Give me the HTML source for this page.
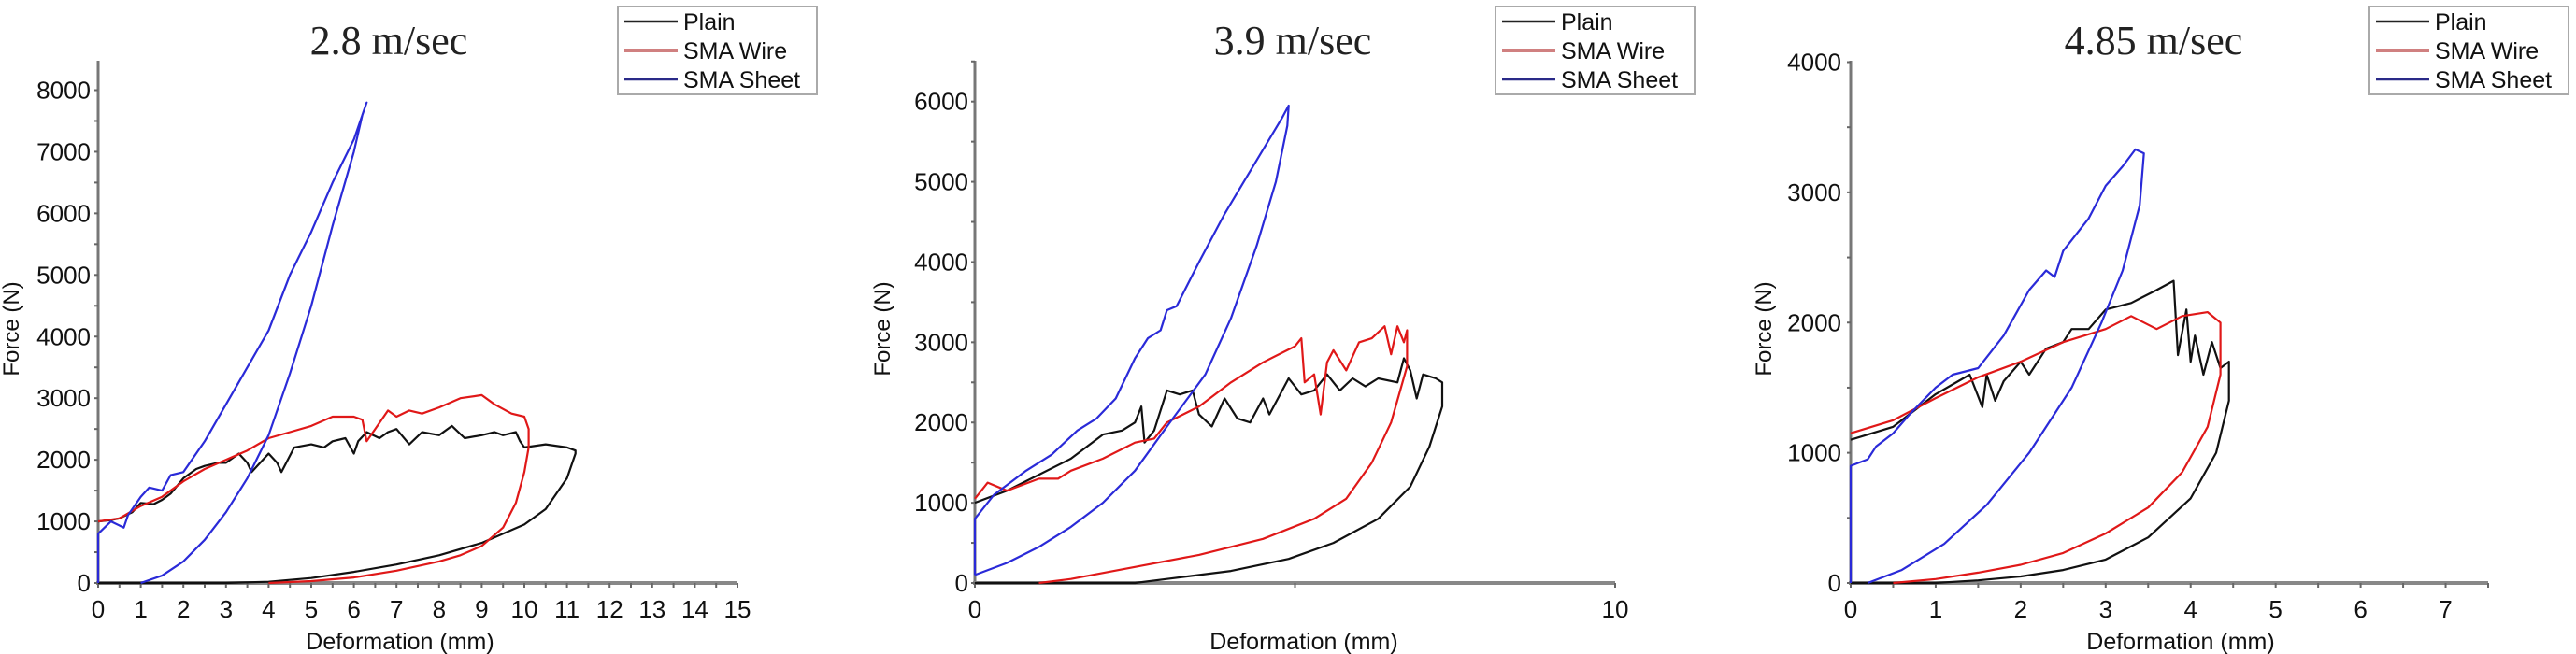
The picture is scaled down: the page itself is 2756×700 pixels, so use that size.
<!DOCTYPE html>
<html><head><meta charset="utf-8">
<style>
html,body{margin:0;padding:0;background:#fff;}
svg{display:block;font-family:"Liberation Sans",sans-serif;}
</style></head>
<body>
<svg id="chart" width="2756" height="700" viewBox="0 0 2756 700" xmlns="http://www.w3.org/2000/svg"></svg>
<script>
// ---------- Panel 1: 2.8 m/sec ----------
const p1PlainX=[0,0.3,0.5,0.8,1,1.3,1.5,1.7,2,2.3,2.5,2.8,3,3.3,3.5,3.6,4,4.2,4.3,4.6,5,5.3,5.5,5.8,6,6.1,6.3,6.6,6.8,7,7.3,7.6,8,8.3,8.6,9,9.3,9.5,9.8,9.9,10,10.5,11,11.2,11.2,11,10.5,10,9,8,7,6,5,4,3,0];
const p1PlainY=[1000,1020,1050,1150,1300,1280,1350,1450,1700,1850,1900,1950,1950,2100,1950,1800,2100,1950,1800,2200,2250,2200,2300,2350,2100,2300,2450,2350,2450,2500,2250,2450,2400,2550,2350,2400,2450,2400,2450,2300,2200,2250,2200,2150,2100,1700,1200,950,650,450,300,180,80,20,0,0];
const p1WireX=[0,0.5,1,1.5,2,2.5,3,3.5,4,4.5,5,5.5,6,6.2,6.3,6.5,6.8,7,7.3,7.6,8,8.5,9,9.3,9.7,10,10.1,10.1,10,9.8,9.5,9,8.5,8,7,6,5,4];
const p1WireY=[1000,1050,1250,1400,1650,1850,2000,2150,2350,2450,2550,2700,2700,2650,2300,2500,2800,2700,2800,2750,2850,3000,3050,2900,2750,2700,2500,2200,1800,1300,900,600,450,350,200,90,30,0];
const p1SheetX=[0,0,0.3,0.6,0.7,1,1.2,1.5,1.7,2,2.5,3,3.5,4,4.5,5,5.5,6,6.3,6.2,6,5.5,5,4.5,4,3.5,3,2.5,2,1.5,1];
const p1SheetY=[0,800,1000,900,1100,1400,1550,1500,1750,1800,2300,2900,3500,4100,5000,5700,6500,7200,7800,7600,7000,5800,4500,3400,2400,1700,1150,700,350,120,0];
const p1XTicks=[0,1,2,3,4,5,6,7,8,9,10,11,12,13,14,15];
const p1YTicks=[0,1000,2000,3000,4000,5000,6000,7000,8000];

// ---------- Panel 2: 3.9 m/sec ----------
const p2PlainX=[0,0.5,1,1.5,2,2.3,2.5,2.6,2.65,2.8,3,3.2,3.4,3.5,3.7,3.9,4.1,4.3,4.5,4.6,4.9,5.1,5.3,5.5,5.7,5.9,6.1,6.3,6.6,6.7,6.8,6.9,7,7.2,7.3,7.3,7.1,6.8,6.3,5.6,4.9,4,3,2.5,0];
const p2PlainY=[1000,1150,1350,1550,1850,1900,2000,2200,1750,1900,2400,2350,2400,2100,1950,2300,2050,2000,2300,2100,2550,2350,2400,2600,2400,2550,2450,2550,2500,2800,2650,2300,2600,2550,2500,2200,1700,1200,800,500,300,150,50,0,0];
const p2WireX=[0,0.2,0.5,1,1.3,1.5,2,2.5,2.8,3,3.5,4,4.5,5,5.1,5.15,5.3,5.4,5.5,5.6,5.8,6,6.2,6.4,6.5,6.6,6.7,6.75,6.75,6.5,6.2,5.8,5.3,4.5,3.5,2.5,1.5,1];
const p2WireY=[1050,1250,1150,1300,1300,1400,1550,1750,1800,2000,2200,2500,2750,2950,3050,2500,2600,2100,2750,2900,2650,3000,3050,3200,2850,3200,3000,3150,2700,2000,1500,1050,800,550,350,200,50,0];
const p2SheetX=[0,0,0.3,0.8,1.2,1.6,1.9,2.2,2.5,2.7,2.9,3.0,3.15,3.5,3.9,4.2,4.5,4.8,4.9,4.88,4.7,4.4,4.0,3.6,3.0,2.5,2.0,1.5,1.0,0.5,0];
const p2SheetY=[100,800,1100,1400,1600,1900,2050,2300,2800,3050,3150,3400,3450,4000,4600,5000,5400,5800,5950,5700,5000,4200,3300,2600,1950,1400,1000,700,450,250,100];
const p2XTicks=[0,10];
const p2YTicks=[0,1000,2000,3000,4000,5000,6000];

// ---------- Panel 3: 4.85 m/sec ----------
const p3PlainX=[0,0.5,1,1.4,1.55,1.6,1.7,1.8,2,2.1,2.3,2.5,2.6,2.8,3,3.3,3.6,3.8,3.85,3.95,4.0,4.05,4.15,4.25,4.35,4.45,4.45,4.3,4.0,3.5,3,2.5,2,1.5,1,0];
const p3PlainY=[1100,1200,1450,1600,1350,1600,1400,1550,1700,1600,1800,1850,1950,1950,2100,2150,2250,2320,1750,2100,1700,1900,1600,1850,1650,1700,1400,1000,650,350,180,100,50,20,0,0];
const p3WireX=[0,0.5,1,1.5,2,2.5,3,3.3,3.6,3.9,4.2,4.35,4.35,4.2,3.9,3.5,3,2.5,2,1.5,1,0.5];
const p3WireY=[1150,1250,1420,1580,1700,1850,1950,2050,1950,2050,2080,2000,1600,1200,850,580,380,230,140,80,30,0];
const p3SheetX=[0,0,0.2,0.3,0.5,0.7,1,1.2,1.5,1.8,2.1,2.3,2.4,2.5,2.8,3.0,3.2,3.35,3.45,3.4,3.2,2.95,2.6,2.1,1.6,1.1,0.6,0.2];
const p3SheetY=[0,900,950,1050,1150,1300,1500,1600,1650,1900,2250,2400,2350,2550,2800,3050,3200,3330,3300,2900,2400,2000,1500,1000,600,300,100,0];
const p3XTicks=[0,1,2,3,4,5,6,7];
const p3YTicks=[0,1000,2000,3000,4000];

const NS="http://www.w3.org/2000/svg";
const svg=document.getElementById('chart');
function mk(tag,attrs,parent){const e=document.createElementNS(NS,tag);for(const k in attrs)e.setAttribute(k,attrs[k]);(parent||svg).appendChild(e);return e;}

function panel(cfg){
  const g=mk('g',{});
  
  
  const sx=v=>cfg.x0+(v-cfg.xmin)*(cfg.x1-cfg.x0)/(cfg.xmax-cfg.xmin);
  const sy=v=>cfg.y0-(v)*(cfg.y0-cfg.yTopVal)/cfg.yTopNum;
  // title
  const t=mk('text',{x:cfg.titleX,y:58,'text-anchor':'middle','font-family':'"Liberation Serif",serif','font-size':44,fill:'#222'},g);
  t.textContent=cfg.title;
  
  
  // axes
  const ya=mk('line',{x1:sx(cfg.xmin),y1:cfg.axisTop,x2:sx(cfg.xmin),y2:cfg.y0+2,stroke:'#777','stroke-width':3},g);
  
  
  const xa=mk('line',{x1:sx(cfg.xmin)-2,y1:cfg.y0,x2:cfg.x1,y2:cfg.y0,stroke:'#888','stroke-width':4},g);
  
  
  // y ticks
  for(let v=0; sy(v)>=cfg.axisTop-1; v+=cfg.yMinor){
    mk('line',{x1:sx(cfg.xmin)-4,y1:sy(v),x2:sx(cfg.xmin),y2:sy(v),stroke:'#666','stroke-width':2},g);
  }
  cfg.yTicks.forEach(v=>{
    const tx=mk('text',{x:sx(cfg.xmin)-(cfg.yLabelGap),y:sy(v)+9,'text-anchor':'end','font-size':26,fill:'#111'},g);
    tx.textContent=v;
    
    
  });
  // x ticks
  for(let v=cfg.xmin; v<=cfg.xmax+1e-6; v+=cfg.xMinor){
    mk('line',{x1:sx(v),y1:cfg.y0,x2:sx(v),y2:cfg.y0+5,stroke:'#666','stroke-width':2},g);
  }
  cfg.xTicks.forEach(v=>{
    const tx=mk('text',{x:sx(v),y:cfg.y0+37,'text-anchor':'middle','font-size':26,fill:'#111'},g);
    tx.textContent=v;
    
    
  });
  // axis titles
  const yt=mk('text',{x:0,y:0,'text-anchor':'middle','font-size':24,fill:'#111',transform:`translate(${cfg.yTitleX},352) rotate(-90)`},g);
  yt.textContent='Force (N)';
  
  
  const xt=mk('text',{x:cfg.xTitleX,y:695,'text-anchor':'middle','font-size':25,fill:'#111'},g);
  xt.textContent='Deformation (mm)';
  
  
  // series
  const series=[[cfg.plainX,cfg.plainY,'#111','plain-curve'],[cfg.wireX,cfg.wireY,'#e01818','sma-wire-curve'],[cfg.sheetX,cfg.sheetY,'#2a2ad8','sma-sheet-curve']];
  series.forEach(s=>{
    const d=s[0].map((x,i)=>(i?'L':'M')+sx(x).toFixed(1)+','+sy(s[1][i]).toFixed(1)).join(' ');
    const p=mk('path',{d:d,fill:'none',stroke:s[2],'stroke-width':2.2,'stroke-linejoin':'round'},g);
    
    
  });
  // legend
  const lg=mk('g',{},g);
  
  
  mk('rect',{x:cfg.legX,y:7,width:213,height:94,fill:'#fff',stroke:'#aaa','stroke-width':2},lg);
  const entries=[['Plain','#222'],['SMA Wire','#d08080'],['SMA Sheet','#2a2a88']];
  entries.forEach((e,i)=>{
    const yy=23+i*31;
    const ln=mk('line',{x1:cfg.legX+7,y1:yy,x2:cfg.legX+64,y2:yy,stroke:e[1],'stroke-width':i==1?4:2.5},lg);
    
    
    const tx=mk('text',{x:cfg.legX+70,y:yy+9,'font-size':25,fill:'#111'},lg);
    tx.textContent=e[0];
    
    
  });
}

panel({name:'panel-2-8-mps',title:'2.8 m/sec',titleX:416,x0:105,x1:789,xmin:0,xmax:15,y0:624,yTopVal:96.5,yTopNum:8000,axisTop:65,
  yMinor:500,xMinor:0.5,yTicks:p1YTicks,xTicks:p1XTicks,yLabelGap:8,yTitleX:20,xTitleX:428,legX:661,
  plainX:p1PlainX,plainY:p1PlainY,wireX:p1WireX,wireY:p1WireY,sheetX:p1SheetX,sheetY:p1SheetY});
panel({name:'panel-3-9-mps',title:'3.9 m/sec',titleX:1383,x0:1043,x1:1728,xmin:0,xmax:10,y0:624,yTopVal:108.7,yTopNum:6000,axisTop:65,
  yMinor:500,xMinor:5,yTicks:p2YTicks,xTicks:p2XTicks,yLabelGap:7,yTitleX:952,xTitleX:1395,legX:1600,
  plainX:p2PlainX,plainY:p2PlainY,wireX:p2WireX,wireY:p2WireY,sheetX:p2SheetX,sheetY:p2SheetY});
panel({name:'panel-4-85-mps',title:'4.85 m/sec',titleX:2304,x0:1980,x1:2662,xmin:0,xmax:7.5,y0:624,yTopVal:66.5,yTopNum:4000,axisTop:65,
  yMinor:500,xMinor:0.5,yTicks:p3YTicks,xTicks:p3XTicks,yLabelGap:10,yTitleX:1895,xTitleX:2333,legX:2535,
  plainX:p3PlainX,plainY:p3PlainY,wireX:p3WireX,wireY:p3WireY,sheetX:p3SheetX,sheetY:p3SheetY});
</script>
</body></html>
